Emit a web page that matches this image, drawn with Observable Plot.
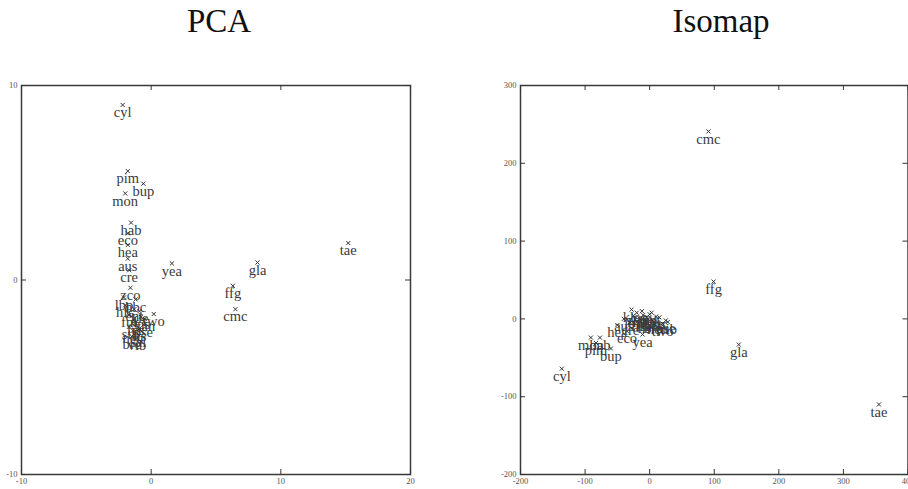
<!DOCTYPE html>
<html>
<head>
<meta charset="utf-8">
<script src="https://cdn.jsdelivr.net/npm/d3@7"></script>
<script src="https://cdn.jsdelivr.net/npm/@observablehq/plot@0.6"></script>
<style>
  html, body { margin: 0; padding: 0; background: #fff; overflow: hidden; }
  #wrap { position: relative; width: 908px; height: 489px; }
  .title { position: absolute; top: 3px; font-family: "Liberation Serif", "DejaVu Serif", serif; font-size: 33px; color: #111; transform: translateX(-50%); white-space: nowrap; }
  .panel { position: absolute; top: 75px; }
</style>
</head>
<body>
<div id="wrap">
  <div class="title" style="left:219px">PCA</div>
  <div class="title" style="left:721px">Isomap</div>
  <div class="panel" id="pca" style="left:0px"></div>
  <div class="panel" id="iso" style="left:480px"></div>
</div>
<script>
// ---- data ----
const names = ["cyl","pim","bup","mon","hab","eco","hea","aus","cre","yea","gla","tae","ffg","cmc","two",
  "zco","lbp","hbc","hfc","ful","sus","bre","fus","lis","neu","pse","sal","str","vib","xan","ent","kle"];
const pcaX = [-2.2,-1.8,-0.6,-2.0,-1.55,-1.8,-1.8,-1.8,-1.7,1.6,8.2,15.2,6.3,6.5,0.2,
  -1.6,-2.1,-1.2,-2.0,-1.7,-0.8,-1.5,-1.2,-0.9,-1.4,-0.6,-1.0,-1.7,-1.1,-0.5,-1.3,-0.9];
const pcaY = [9.0,5.6,4.95,4.45,2.95,2.4,1.8,1.1,0.5,0.85,0.9,1.9,-0.3,-1.5,-1.75,
  -0.4,-0.9,-1.0,-1.3,-1.8,-1.9,-2.9,-2.2,-2.5,-2.6,-2.3,-2.8,-2.4,-3.0,-2.0,-1.5,-1.6];
const isoX = [-136,-83,-60,-91,-77,-35,-50,-40,-30,-11,138,355,99,91,20,
  -20,-25,-10,-5,0,10,5,-15,-8,12,25,-3,15,28,-12,3,-28];
const isoY = [-64,-31,-38,-24,-24,-16,-8,0,-5,-20,-33,-110,48,241,-6,
  8,4,5,2,6,3,-2,0,-3,-4,-2,0,2,-4,10,8,12];
const pcaXTicks = [-10, 0, 10, 20];
const pcaYTicks = [-10, 0, 10];
const isoXTicks = [-200, -100, 0, 100, 200, 300, 400];
const isoYTicks = [-200, -100, 0, 100, 200, 300];

const pcaData = names.map((n, i) => ({name: n, x: pcaX[i], y: pcaY[i]}));
const isoData = names.map((n, i) => ({name: n, x: isoX[i], y: isoY[i]}));

const serif = "Liberation Serif, DejaVu Serif, serif";

function panel(data, xDomain, yDomain, xTicks, yTicks, opts) {
  const {width, height, ml, mr, mt, mb} = opts;
  const iw = width - ml - mr, ih = height - mt - mb;
  const tick = 5;
  return Plot.plot({
    width, height,
    marginLeft: ml, marginRight: mr, marginTop: mt, marginBottom: mb,
    x: {domain: xDomain, axis: null},
    y: {domain: yDomain, axis: null},
    style: {background: "transparent", overflow: "visible"},
    marks: [
      Plot.frame({stroke: "#3a3a3a", strokeWidth: 1.5}),
      // inward tick marks on all four sides
      Plot.ruleX(xTicks, {x: d => d, insetTop: ih - tick, stroke: "#333"}),
      Plot.ruleX(xTicks, {x: d => d, insetBottom: ih - tick, stroke: "#333"}),
      Plot.ruleY(yTicks, {y: d => d, insetRight: iw - tick, stroke: "#333"}),
      Plot.ruleY(yTicks, {y: d => d, insetLeft: iw - tick, stroke: "#333"}),
      // tick labels
      Plot.text(xTicks, {x: d => d, frameAnchor: "bottom", dy: 9, text: d => String(d),
        fontSize: 8.5, fontFamily: serif, fill: "#555"}),
      Plot.text(yTicks, {y: d => d, frameAnchor: "left", textAnchor: "end", dx: -4, text: d => String(d),
        fontSize: 8.5, fontFamily: serif, fill: "#555"}),
      // points and labels
      Plot.dot(data, {x: "x", y: "y", symbol: "times", r: 2, stroke: "#333", strokeWidth: 1}),
      Plot.text(data, {x: "x", y: "y", text: "name", dy: 7.5, fontSize: 14.5, fontFamily: serif, fill: "#3a3a3a"})
    ]
  });
}

document.getElementById("pca").appendChild(
  panel(pcaData, [-10, 20], [-10, 10], pcaXTicks, pcaYTicks,
    {width: 440, height: 414, ml: 21, mr: 30, mt: 10, mb: 15}));
document.getElementById("iso").appendChild(
  panel(isoData, [-200, 400], [-200, 300], isoXTicks, isoYTicks,
    {width: 428, height: 414, ml: 40, mr: 0.5, mt: 10, mb: 15}));
</script>
</body>
</html>
